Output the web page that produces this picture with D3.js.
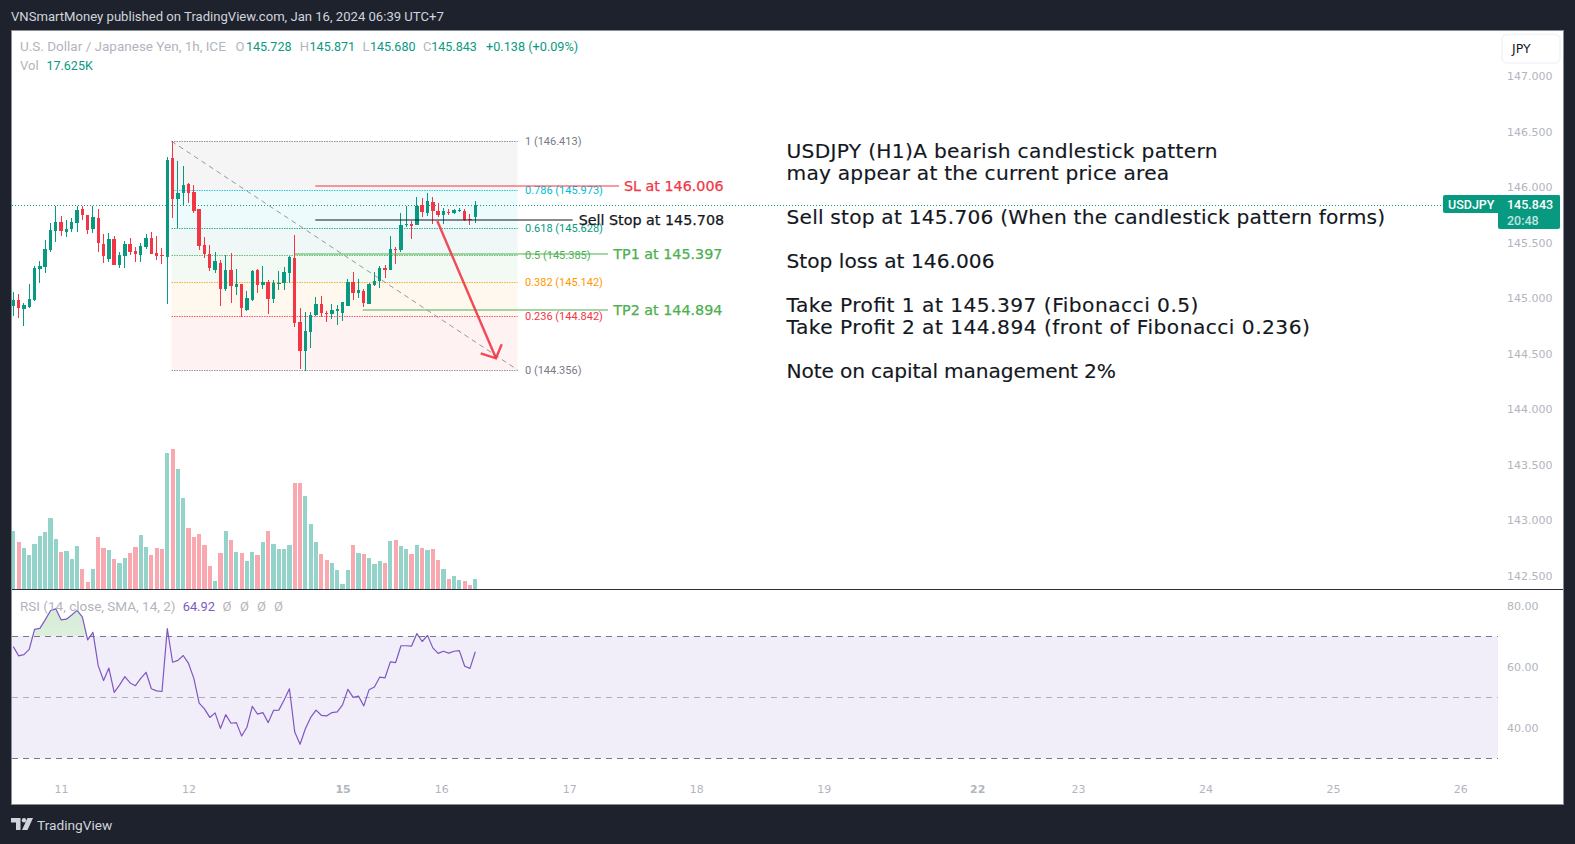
<!DOCTYPE html>
<html><head><meta charset="utf-8"><title>USDJPY H1</title>
<script src="https://cdn.jsdelivr.net/npm/d3@7"></script>
<style>html,body{margin:0;padding:0;background:#1e222d;overflow:hidden}svg{display:block}</style>
</head><body><svg id="c" width="1575" height="844" font-family="'DejaVu Sans',sans-serif"></svg>
<script>
const openP=[144.930,144.984,144.903,144.921,144.984,145.263,145.281,145.434,145.605,145.686,145.596,145.623,145.677,145.803,145.749,145.623,145.722,145.488,145.353,145.533,145.299,145.380,145.488,145.425,145.389,145.461,145.542,145.407,145.389,145.371,146.262,145.893,145.947,146.028,145.956,145.803,145.479,145.398,145.254,145.317,145.083,145.254,145.101,145.128,144.894,144.984,145.254,145.119,145.146,144.993,145.128,145.137,145.227,145.362,144.786,144.525,144.696,144.849,144.948,144.867,144.858,144.885,144.867,144.930,145.146,145.047,145.065,144.948,145.119,145.155,145.272,145.254,145.443,145.434,145.659,145.668,145.659,145.839,145.767,145.866,145.785,145.749,145.776,145.767,145.785,145.785,145.713,145.728];
const highP=[145.056,145.038,144.957,145.128,145.290,145.335,145.524,145.677,145.830,145.740,145.704,145.722,145.830,145.830,145.749,145.830,145.803,145.578,145.587,145.560,145.416,145.515,145.542,145.461,145.497,145.578,145.596,145.560,145.452,146.271,146.415,146.235,146.190,146.037,146.019,145.803,145.551,145.479,145.416,145.344,145.389,145.407,145.263,145.128,145.065,145.254,145.260,145.290,145.164,145.164,145.245,145.281,145.380,145.569,144.912,144.876,144.876,145.011,145.020,144.885,144.948,144.939,144.966,145.173,145.236,145.173,145.083,145.137,145.236,145.290,145.299,145.560,145.461,145.767,145.830,145.695,145.911,145.902,145.947,145.911,145.857,145.812,145.803,145.803,145.812,145.803,145.758,145.871];
const lowP=[144.840,144.822,144.750,144.912,144.975,145.137,145.227,145.416,145.506,145.560,145.551,145.596,145.596,145.704,145.578,145.587,145.416,145.317,145.326,145.299,145.272,145.272,145.389,145.326,145.326,145.443,145.398,145.344,145.308,144.948,145.722,145.629,145.830,145.857,145.767,145.434,145.362,145.245,145.227,144.930,145.065,144.957,145.029,144.831,144.885,144.975,145.047,145.083,144.858,144.957,145.074,145.074,145.137,144.741,144.363,144.348,144.552,144.840,144.831,144.786,144.813,144.759,144.795,144.930,144.984,145.002,144.921,144.948,145.110,145.092,145.182,145.254,145.308,145.416,145.641,145.533,145.659,145.731,145.740,145.668,145.731,145.668,145.749,145.758,145.776,145.695,145.659,145.680];
const closeP=[144.984,144.912,144.939,144.993,145.272,145.290,145.443,145.614,145.686,145.605,145.623,145.686,145.794,145.749,145.614,145.731,145.497,145.380,145.533,145.299,145.389,145.488,145.416,145.398,145.470,145.542,145.398,145.380,145.380,146.244,145.893,145.947,146.019,145.947,145.785,145.470,145.398,145.272,145.335,145.083,145.254,145.110,145.128,144.912,145.002,145.245,145.119,145.146,144.993,145.137,145.137,145.236,145.371,144.777,144.525,144.705,144.849,144.948,144.867,144.858,144.894,144.903,144.966,145.146,145.047,145.074,144.957,145.128,145.155,145.272,145.254,145.443,145.434,145.659,145.668,145.650,145.830,145.776,145.875,145.785,145.749,145.785,145.767,145.794,145.794,145.704,145.704,145.843];
const volumeK=[102.2,82.8,72.3,59.9,79.3,93.4,100.5,125.1,88.1,65.2,67.0,52.9,75.8,35.3,12.3,35.3,91.7,72.3,68.7,52.9,45.8,54.6,63.5,74.0,95.2,74.0,59.9,72.3,70.5,239.7,246.8,211.5,160.4,107.5,91.7,96.9,77.6,40.5,14.1,63.5,102.2,86.4,65.2,63.5,49.4,65.2,59.9,82.8,102.2,79.3,70.5,70.5,77.6,186.8,186.8,163.9,114.6,82.8,61.7,51.1,45.8,33.5,8.8,33.5,77.6,63.5,61.7,54.6,44.1,49.4,45.8,84.6,86.4,75.8,70.5,61.7,77.6,72.3,68.7,70.5,51.1,35.3,17.6,22.9,15.9,14.1,7.05,17.625];
const rsiVals=[66.6,63.6,64.0,65.7,72.3,72.6,75.4,78.4,79.0,75.4,75.6,77.0,78.5,76.4,68.8,71.3,60.3,55.5,59.6,51.6,54.0,56.8,54.7,53.8,56.2,58.2,52.8,52.1,51.9,72.5,61.5,62.1,63.7,61.1,56.2,48.1,46.2,43.4,44.9,39.8,44.3,41.5,41.7,37.3,40.2,47.0,44.5,45.0,41.7,45.7,45.8,49.1,52.8,38.6,34.6,39.7,43.4,45.8,44.1,43.9,45.0,45.2,47.5,52.6,50.0,50.4,47.2,52.5,53.4,56.6,56.4,61.6,61.4,66.9,66.9,66.8,70.9,68.3,70.3,66.2,64.4,65.1,64.5,65.1,65.3,60.2,59.5,64.92];
const priceTicks=[147,146.5,146,145.5,145,144.5,144,143.5,143,142.5];
const rsiTicks=[80,60,40];
const rsiLevels=[70,50,30];
const timeTickIdx=[9,33,62,80.6,104.7,128.6,152.6,181.5,200.5,224.5,248.5,272.5];
const timeTickLabels=["11","12","15","16","17","18","19","22","23","24","25","26"];
const boldTimeLabels=["15","22"];
const fibLevels=[1,0.786,0.618,0.5,0.382,0.236,0];
const fibPrices=[146.413,145.973,145.628,145.385,145.142,144.842,144.356];
const fibColors=["#787b86","#00bcd4","#089981","#4caf50","#ff9800","#f23645","#787b86"];
const tradeLabels=["SL at 146.006","Sell Stop at 145.708","TP1 at 145.397","TP2 at 144.894"];
const tradePrices=[146.006,145.708,145.397,144.894];
const tradeColors=["#f23645","#131722","#4caf50","#4caf50"];
const noteLines=["USDJPY (H1)A bearish candlestick pattern","may appear at the current price area","","Sell stop at 145.706 (When the candlestick pattern forms)","","Stop loss at 146.006","","Take Profit 1 at 145.397 (Fibonacci 0.5)","Take Profit 2 at 144.894 (front of Fibonacci 0.236)","","Note on capital management 2%"];
const noteWidths=[431,382.7,0,598.7,0,208,0,412,523.4,0,329.5];

const UP="#089981",DN="#f23645",GREY="#b2b5be";
const svg=d3.select("#c");
const n=openP.length, idx=d3.range(n);
const snap=v=>Math.round(v)+0.5;
svg.append("rect").attr("width",1575).attr("height",844).attr("fill","#1e222d");
svg.append("rect").attr("x",11.5).attr("y",30.5).attr("width",1552).attr("height",774).attr("fill","#fff").attr("stroke","#8a8d96");
svg.append("defs").append("clipPath").attr("id","plot").append("rect").attr("x",12).attr("y",31).attr("width",1486).attr("height",773);
const x=d3.scaleLinear().domain([0,87]).range([13.3,475.3]);
const y=d3.scaleLinear().domain([147,142.5]).range([76,576]);
const yV=d3.scaleLinear().domain([0,250]).range([589,447.2]);
const yR=d3.scaleLinear().domain([70,30]).range([636.3,758.3]);
const gMain=svg.append("g").attr("clip-path","url(#plot)");
// fib
const fx0=171.5,fx1=517.5;
const fg=gMain.append("g");
d3.pairs(idx.slice(0,fibPrices.length)).forEach(([a,b])=>{
  fg.append("rect").attr("x",fx0).attr("width",fx1-fx0).attr("y",y(fibPrices[a])).attr("height",y(fibPrices[b])-y(fibPrices[a])).attr("fill",a==0?"#787878":fibColors[a]).attr("fill-opacity",a==0?0.07:0.065);
});
fibPrices.forEach((p,i)=>{
  fg.append("line").attr("x1",fx0).attr("x2",fx1).attr("y1",snap(y(p))).attr("y2",snap(y(p))).attr("stroke",fibColors[i]).attr("stroke-dasharray","1.5 1").attr("stroke-opacity",0.8);
  svg.append("text").attr("x",525).attr("y",y(p)+3.8).attr("font-size",11).attr("font-family","Roboto").attr("fill",fibColors[i]).text(`${fibLevels[i]} (${p.toFixed(3)})`);
});
fg.append("line").attr("x1",fx0).attr("y1",y(fibPrices[0])).attr("x2",fx1).attr("y2",y(fibPrices[6])).attr("stroke","#9598a1").attr("stroke-dasharray","5 4");
// current price line
gMain.append("line").attr("x1",12).attr("x2",1443).attr("y1",snap(y(145.843))).attr("y2",snap(y(145.843))).attr("stroke",UP).attr("stroke-dasharray","1 2");
// volume
gMain.append("g").attr("shape-rendering","crispEdges").selectAll("rect").data(idx).join("rect")
  .attr("x",i=>x(i)-2.1).attr("width",4.2).attr("y",i=>yV(volumeK[i])).attr("height",i=>yV(0)-yV(volumeK[i]))
  .attr("fill",i=>closeP[i]>=openP[i]?UP:DN).attr("fill-opacity",0.43);
// candles
const cg=gMain.append("g").attr("shape-rendering","crispEdges");
cg.selectAll("line").data(idx).join("line").attr("x1",x).attr("x2",x).attr("y1",i=>y(highP[i])).attr("y2",i=>y(lowP[i])).attr("stroke",i=>closeP[i]>=openP[i]?UP:DN);
cg.selectAll("rect").data(idx).join("rect").attr("x",i=>x(i)-1.7).attr("width",3.4)
  .attr("y",i=>y(Math.max(openP[i],closeP[i]))).attr("height",i=>Math.max(1,Math.abs(y(openP[i])-y(closeP[i])))).attr("fill",i=>closeP[i]>=openP[i]?UP:DN);
// trade lines
const tx0=[315.3,315.3,295,362.7],tx1=[619,572.7,608,608],tlx=[624,578.7,613.3,613.3],tw=[1.2,1.2,1.2,2];
tradePrices.forEach((p,i)=>{
  svg.append("line").attr("x1",tx0[i]).attr("x2",tx1[i]).attr("y1",Math.round(y(p))).attr("y2",Math.round(y(p))).attr("stroke",tradeColors[i]).attr("stroke-width",tw[i]).attr("stroke-opacity",i==3?0.5:1);
  svg.append("text").attr("x",tlx[i]).attr("y",y(p)+5).attr("font-size",14.3).attr("fill",tradeColors[i]).attr("stroke",tradeColors[i]).attr("stroke-width",0.25).text(tradeLabels[i]);
});
// arrow
const arrow=d3.line();
svg.append("path").attr("d",arrow([[437.3,221],[496,358.3]])).attr("stroke",DN).attr("stroke-width",2.4).attr("fill","none").attr("stroke-opacity",.9);
svg.append("path").attr("d",arrow([[480.7,353.3],[496,358.3],[501.7,344.3]])).attr("stroke",DN).attr("stroke-width",2.4).attr("fill","none").attr("stroke-opacity",.9);
// notes
const notes=svg.append("g").attr("font-size",20.2).attr("fill","#131722").attr("stroke","#131722").attr("stroke-width",0.15);
noteLines.forEach((t,i)=>{ if(t) notes.append("text").attr("x",786.5).attr("y",157.8+22*i).attr("textLength",noteWidths[i]).attr("lengthAdjust","spacing").text(t); });
// separator
svg.append("line").attr("x1",12).attr("x2",1563).attr("y1",589.5).attr("y2",589.5).attr("stroke","#2a2e39");
// rsi
svg.append("rect").attr("x",12).attr("width",1486).attr("y",yR(70)).attr("height",yR(30)-yR(70)).attr("fill","#7e57c2").attr("fill-opacity",0.1);
const grad=svg.select("defs").append("linearGradient").attr("id","ob").attr("x1",0).attr("x2",0).attr("y1",0).attr("y2",1);
grad.append("stop").attr("offset",0).attr("stop-color","#4caf50").attr("stop-opacity",.24);
grad.append("stop").attr("offset",1).attr("stop-color","#4caf50").attr("stop-opacity",0);
svg.select("defs").append("clipPath").attr("id","above").append("rect").attr("x",12).attr("y",590).attr("width",1486).attr("height",yR(70)-590);
svg.append("path").attr("clip-path","url(#above)").attr("fill","url(#ob)")
  .attr("d",d3.area().x(i=>x(i)).y0(yR(70)).y1(i=>yR(rsiVals[i]))(idx));
rsiLevels.forEach(l=>svg.append("line").attr("x1",12).attr("x2",1498).attr("y1",snap(yR(l))).attr("y2",snap(yR(l))).attr("stroke","#787b86").attr("stroke-opacity",l==50?.55:1).attr("stroke-dasharray","6 5"));
svg.append("path").attr("d",d3.line().x(i=>x(i)).y(i=>yR(rsiVals[i]))(idx)).attr("fill","none").attr("stroke","#7e57c2").attr("stroke-width",1.2).attr("stroke-linejoin","round");
// axes
function styleAxis(g){g.select(".domain").remove();g.selectAll(".tick line").remove();g.selectAll("text").attr("font-size",11).attr("font-family",'"DejaVu Sans"').attr("fill",GREY);}
svg.append("g").attr("transform","translate(1507,0)").call(d3.axisRight(y).tickValues(priceTicks).tickFormat(d3.format(".3f")).tickSize(0).tickPadding(0)).call(styleAxis);
svg.append("g").attr("transform","translate(1507,0)").call(d3.axisRight(yR).tickValues(rsiTicks).tickFormat(d3.format(".2f")).tickSize(0).tickPadding(0)).call(styleAxis);
svg.append("g").attr("transform","translate(0,785)").call(d3.axisBottom(x).tickValues(timeTickIdx).tickFormat((d,i)=>timeTickLabels[i]).tickSize(0).tickPadding(0)).call(styleAxis)
  .selectAll("text").attr("font-weight",(d,i)=>boldTimeLabels.includes(timeTickLabels[i])?"bold":"normal");
// price tag
svg.append("rect").attr("x",1443).attr("y",195).attr("width",117).attr("height",18).attr("rx",2).attr("fill",UP);
svg.append("rect").attr("x",1498).attr("y",195).attr("width",62).attr("height",34).attr("rx",2).attr("fill",UP);
const tagText=(tx,ty,t,op)=>svg.append("text").attr("x",tx).attr("y",ty).attr("font-size",12.5).attr("font-family","Roboto").attr("font-weight",500).attr("fill","#fff").attr("fill-opacity",op).text(t);
tagText(1448,208.5,"USDJPY",1);tagText(1507,208.5,"145.843",1);tagText(1507,224.5,"20:48",.75);
// JPY button
svg.append("rect").attr("x",1502).attr("y",34.5).attr("width",58).attr("height",28.5).attr("rx",5).attr("fill","#fff").attr("stroke","#f0f3fa").attr("stroke-width",1.5);
svg.append("text").attr("x",1512).attr("y",53).attr("font-size",12.5).attr("fill","#131722").text("JPY");
// header and legends
svg.append("text").attr("x",11).attr("y",21).attr("font-size",13.1).attr("font-family","Roboto").attr("fill","#d1d4dc").text("VNSmartMoney published on TradingView.com, Jan 16, 2024 06:39 UTC+7");
const legend=[[20,50.5,"U.S. Dollar / Japanese Yen, 1h, ICE",GREY,13.5],[235.5,50.5,"O",GREY,13],[246,50.5,"145.728",UP,12.5],[299.7,50.5,"H",GREY,13],[309.6,50.5,"145.871",UP,12.5],[362.4,50.5,"L",GREY,13],[370,50.5,"145.680",UP,12.5],[423,50.5,"C",GREY,13],[431.3,50.5,"145.843",UP,12.5],[486,50.5,"+0.138 (+0.09%)",UP,12.7],[20,69.5,"Vol",GREY,13],[46.5,69.5,"17.625K",UP,12.5],
 [20,611,"RSI (14, close, SMA, 14, 2)",GREY,13.5],[182.7,611,"64.92","#7e57c2",12.8],[222.5,611,"Ø",GREY,13],[240,611,"Ø",GREY,13],[257,611,"Ø",GREY,13],[274,611,"Ø",GREY,13]];
legend.forEach(d=>svg.append("text").attr("x",d[0]).attr("y",d[1]).attr("font-size",d[4]).attr("font-family","Roboto").attr("fill",d[3]).text(d[2]));
// logo
const logo=svg.append("g").attr("transform","translate(11,818)").attr("fill","#d1d4dc");
logo.append("path").attr("d","M0 0H9.5V12H5V4.5H0Z");
logo.append("circle").attr("cx",13).attr("cy",2.2).attr("r",2.2);
logo.append("path").attr("d","M16.5 0H22L16.5 12H11Z");
svg.append("text").attr("x",37).attr("y",830).attr("font-size",13.7).attr("font-family","Roboto").attr("fill","#d1d4dc").text("TradingView");
</script></body></html>
